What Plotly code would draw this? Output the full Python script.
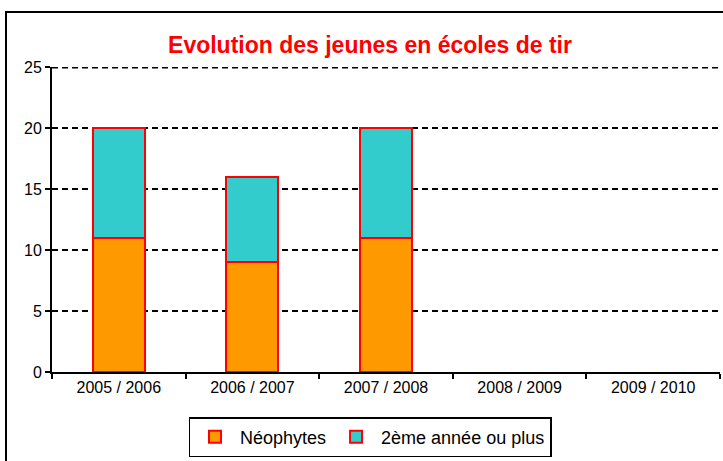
import plotly.graph_objects as go

categories = ["2005 / 2006", "2006 / 2007", "2007 / 2008", "2008 / 2009", "2009 / 2010"]
neophytes = [11, 9, 11, None, None]
deuxieme = [9, 7, 9, None, None]
yticks = [0, 5, 10, 15, 20, 25]

W, H = 723, 461
L, R, T, B = 52, 3, 67, 89
pw, ph = W - L - R, H - T - B

def px(x):
    return (x - L) / pw

def py(y):
    return (H - B - y) / ph

fig = go.Figure()
fig.add_trace(go.Bar(x=categories, y=neophytes, name="Néophytes",
                     marker=dict(color="#FF9900", line=dict(color="#FF0000", width=2))))
fig.add_trace(go.Bar(x=categories, y=deuxieme, name="2ème année ou plus",
                     marker=dict(color="#33CCCC", line=dict(color="#FF0000", width=2))))

fig.update_layout(
    width=W, height=H,
    margin=dict(l=L, r=R, t=T, b=B, autoexpand=False),
    barmode="stack", bargap=0.61,
    plot_bgcolor="white", paper_bgcolor="white",
    font=dict(family="Liberation Sans, Arial", color="black", size=15),
    title=dict(text="<b>Evolution des jeunes en écoles de tir</b>",
               font=dict(size=23, color="#FF0000"),
               x=370 / W, xanchor="center", y=1 - 45 / H, yanchor="middle"),
    xaxis=dict(showgrid=False, showline=True, linecolor="black", linewidth=2,
               ticks="outside", tickson="boundaries", ticklen=5, tickcolor="black",
               tickwidth=1.5, tickfont=dict(size=16)),
    yaxis=dict(range=[0, 25], tickvals=yticks, showgrid=True, gridcolor="black",
               griddash="6px,4px", gridwidth=1.5, showline=True, linecolor="black",
               linewidth=2, ticks="outside", ticklen=5, tickcolor="black",
               tickwidth=1.5, zeroline=False, tickfont=dict(size=16)),
    legend=dict(orientation="h", traceorder="normal", x=px(370), xanchor="center",
                y=py(417), yanchor="top", itemwidth=40,
                bordercolor="black", borderwidth=1.5, font=dict(size=18),
                bgcolor="white"),
    showlegend=True,
)

# gridline at the top tick (coincides with the plot edge; half is clipped)
fig.add_hline(y=yticks[-1], line=dict(color="black", width=3, dash="6px,4px"))

fig.add_shape(type="rect", xref="paper", yref="paper",
              x0=px(6), x1=px(745), y0=py(480), y1=py(12),
              line=dict(color="black", width=2), layer="below")

fig.write_html("out.html", config={"displayModeBar": False},
               post_script="document.body.style.margin='0';")
